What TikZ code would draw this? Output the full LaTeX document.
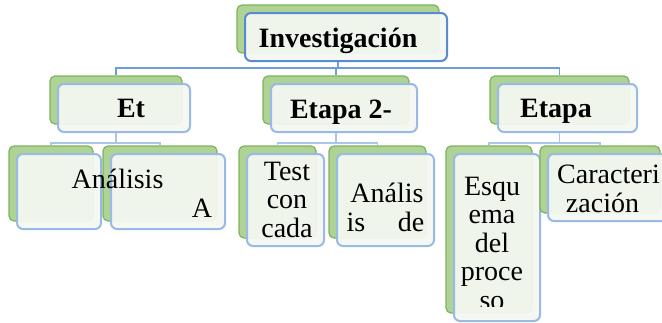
\documentclass[tikz,border=0pt]{standalone}
\usepackage{fontspec}
\setmainfont{Liberation Serif}
\usetikzlibrary{positioning}
\definecolor{boxgreen}{HTML}{7CB45A}
\definecolor{fillgreen}{HTML}{AED394}
\definecolor{topblue}{HTML}{5A8AD0}
\definecolor{edgeblue}{HTML}{98BAE4}
\definecolor{paper}{HTML}{F4F7F1}
\definecolor{linkblue}{HTML}{6E9DDA}
\definecolor{sublink}{HTML}{A9C6EA}

\begin{document}
\begin{tikzpicture}[x=1pt,y=-1pt]
                    \tikzstyle{every node}+=[inner sep=0pt]
                    \tikzstyle{backbox}=[draw=boxgreen, fill=fillgreen, line width=1.2pt, rounded corners=5pt]
                    \tikzstyle{frontbox}=[draw=edgeblue, fill=paper, fill opacity=0.95, line width=2pt, rounded corners=6pt]
                    \tikzstyle{toplink}=[draw=linkblue, line width=1.8pt]
                    \tikzstyle{sublinks}=[draw=sublink, line width=1.8pt]
                    \tikzstyle{lbl}=[anchor=base, font=\fontsize{28}{30}\selectfont]
                    \tikzstyle{boldlbl}=[anchor=base, font=\bfseries\fontsize{28}{30}\selectfont]
                    \useasboundingbox (0,0) rectangle (662,322);
                    % root
                    \node [backbox, minimum width=202, minimum height=48] (top) at (338,29) {};
                    \node [frontbox, draw=topblue, minimum width=202, minimum height=48] (topf) at ([shift={(8,8)}]top) {};
                    \node [boldlbl] (toptxt) at (338,47) {Investigación};
                    % stages
                    \node [backbox, minimum width=132, minimum height=48] (st1) at (116,100) {};
                    \node [frontbox, minimum width=132, minimum height=48] (st1f) at ([shift={(8,8)}]st1) {};
                    \node [boldlbl] (st1txt) at (131,117) {Et};
                    \node [backbox, minimum width=146, minimum height=48] (st2) at (336,100) {};
                    \node [frontbox, minimum width=146, minimum height=48] (st2f) at ([shift={(8,8)}]st2) {};
                    \node [boldlbl] (st2txt) at (341,118) {Etapa 2-};
                    \node [backbox, minimum width=139, minimum height=48] (st3) at (559.5,100) {};
                    \node [frontbox, minimum width=139, minimum height=48] (st3f) at ([shift={(8,8)}]st3) {};
                    \node [boldlbl] (st3txt) at (556,117) {Etapa};
                    % stage 1 tasks
                    \node [backbox, minimum width=84, minimum height=75] (a1) at (51,183.5) {};
                    \node [frontbox, minimum width=84, minimum height=75] (a1f) at ([shift={(8,8)}]a1) {};
                    \node [backbox, minimum width=114, minimum height=75] (a2) at (160,183.5) {};
                    \node [frontbox, minimum width=114, minimum height=75] (a2f) at ([shift={(8,8)}]a2) {};
                    \node [lbl] (a1txt) at (117.5,188) {Análisis};
                    \node [lbl] (a2txt) at (202,217) {A};
                    % stage 2 tasks
                    \node [backbox, minimum width=77, minimum height=92] (b1) at (277.5,192) {};
                    \node [frontbox, minimum width=77, minimum height=92] (b1f) at ([shift={(8,8)}]b1) {};
                    \node [lbl] (b1txta) at (287,180) {Test};
                    \node [lbl] (b1txtb) at (287,208.5) {con};
                    \node [lbl] (b1txtc) at (287,237) {cada};
                    \node [backbox, minimum width=97, minimum height=92] (b2) at (377.5,192) {};
                    \node [frontbox, minimum width=97, minimum height=92] (b2f) at ([shift={(8,8)}]b2) {};
                    \node [lbl] (b2txta) at (387,202) {Anális};
                    \node [lbl] (b2txtb) at (356,231) {is};
                    \node [lbl] (b2txtc) at (411,231) {de};
                    % stage 3 tasks
                    \node [backbox, minimum width=86, minimum height=167] (c1) at (489,229.5) {};
                    \node [frontbox, minimum width=86, minimum height=167] (c1f) at ([shift={(8,8)}]c1) {};
                    \begin{scope}
                    \clip (454,155) rectangle (541,306);
                    \node [lbl] (c1txta) at (492,195) {Esqu};
                    \node [lbl] (c1txtb) at (492,223.5) {ema};
                    \node [lbl] (c1txtc) at (492,252) {del};
                    \node [lbl] (c1txtd) at (492,280.5) {proce};
                    \node [lbl] (c1txte) at (492,309) {so};
                    \end{scope}
                    \node [backbox, minimum width=120, minimum height=67] (c2) at (600,179.5) {};
                    \node [frontbox, minimum width=120, minimum height=67] (c2f) at ([shift={(8,8)}]c2) {};
                    \node [lbl] (c2txta) at (608.5,183) {Caracteri};
                    \node [lbl] (c2txtb) at (602.5,212) {zación};
                    % links
                    \draw [toplink] (topf.south -| top.south) -- ++(0,6) -| (st1.north);
                    \draw [toplink] (topf.south -| top.south) -- ++(0,6) -| (st2.north);
                    \draw [toplink] (topf.south -| top.south) -- ++(0,6) -| (st3.north);
                    \draw [sublinks] (st1f.south -| st1.south) -- ++(0,10) -| (a1.north);
                    \draw [sublinks] (st1f.south -| st1.south) -- ++(0,10) -| (a2.north);
                    \draw [sublinks] (st2f.south -| st2.south) -- ++(0,10) -| (b1.north);
                    \draw [sublinks] (st2f.south -| st2.south) -- ++(0,10) -| (b2.north);
                    \draw [sublinks] (st3f.south -| st3.south) -- ++(0,10) -| (c1.north);
                    \draw [sublinks] (st3f.south -| st3.south) -- ++(0,10) -| (c2.north);
                \end{tikzpicture}
\end{document}
